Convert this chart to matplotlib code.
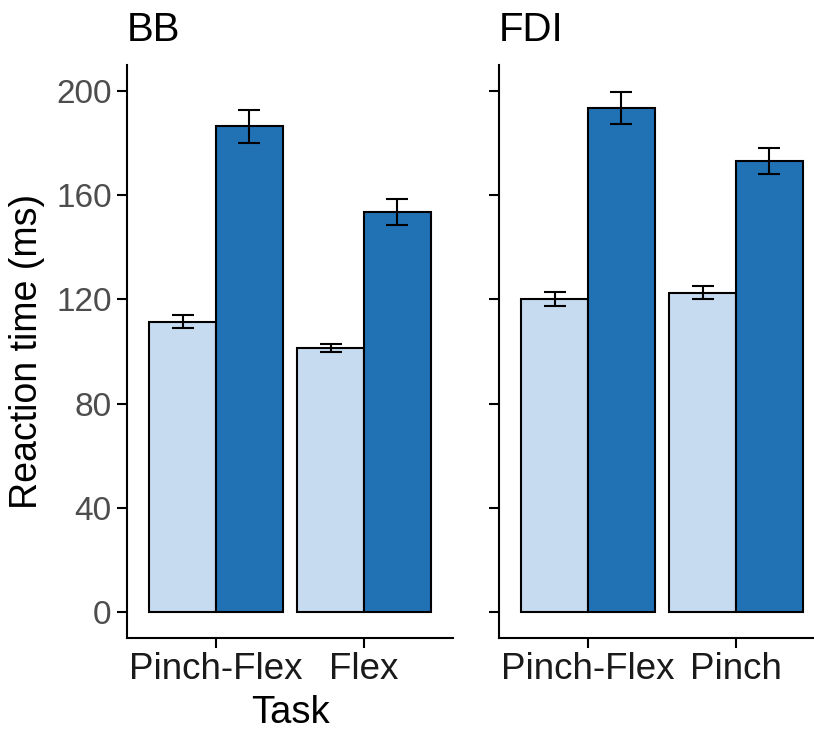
import matplotlib
matplotlib.use("Agg")
import matplotlib.pyplot as plt
import numpy as np

# Data
panels = ["BB", "FDI"]
tasks = [["Pinch-Flex", "Flex"], ["Pinch-Flex", "Pinch"]]
light_mean = [[111.5, 101.5], [120.0, 122.5]]
light_err = [[2.5, 1.5], [2.7, 2.5]]
dark_mean = [[186.5, 153.5], [193.5, 173.0]]
dark_err = [[6.3, 5.0], [6.0, 5.0]]

light_col = "#C6DBEF"
dark_col = "#2171B5"
yticks = [0, 40, 80, 120, 160, 200]

plt.rcParams["font.family"] = ["Liberation Sans", "DejaVu Sans"]

fig = plt.figure(figsize=(8.14, 7.31), dpi=100)
lefts = [127 / 814, 499 / 814]
w = 326 / 814
b = (731 - 638) / 731
h = (638 - 65) / 731

bw = 0.45
for i, name in enumerate(panels):
    ax = fig.add_axes([lefts[i], b, w, h])
    x = np.arange(1, len(tasks[i]) + 1)
    ax.bar(x - bw / 2, light_mean[i], width=bw, color=light_col,
           edgecolor="black", linewidth=1.5, zorder=2)
    ax.bar(x + bw / 2, dark_mean[i], width=bw, color=dark_col,
           edgecolor="black", linewidth=1.5, zorder=2)
    ax.errorbar(x - bw / 2, light_mean[i], yerr=light_err[i], fmt="none",
                ecolor="black", elinewidth=1.5, capsize=8, capthick=1.5, zorder=3)
    ax.errorbar(x + bw / 2, dark_mean[i], yerr=dark_err[i], fmt="none",
                ecolor="black", elinewidth=1.5, capsize=8, capthick=1.5, zorder=3)

    ax.set_xlim(0.4, len(tasks[i]) + 0.6)
    ax.set_ylim(-10, 210)
    ax.set_xticks(x)
    ax.set_xticklabels(tasks[i])
    ax.set_yticks(yticks)
    for s in ["top", "right"]:
        ax.spines[s].set_visible(False)
    for s in ["left", "bottom"]:
        ax.spines[s].set_linewidth(1.5)
    ax.tick_params(axis="both", length=7, width=1.5, labelsize=24,
                   labelcolor="#4D4D4D", pad=4)
    ax.tick_params(axis="x", labelcolor="#1A1A1A", labelsize=26.5, pad=3)
    if i == 0:
        ax.set_ylabel("Reaction time (ms)", fontsize=27, labelpad=8)
        ax.set_xlabel("Task", fontsize=27.5, labelpad=6)
    else:
        ax.set_yticklabels([])
    ax.set_title(name, loc="left", fontsize=29, pad=17)

fig.savefig("out.png", dpi=100)
